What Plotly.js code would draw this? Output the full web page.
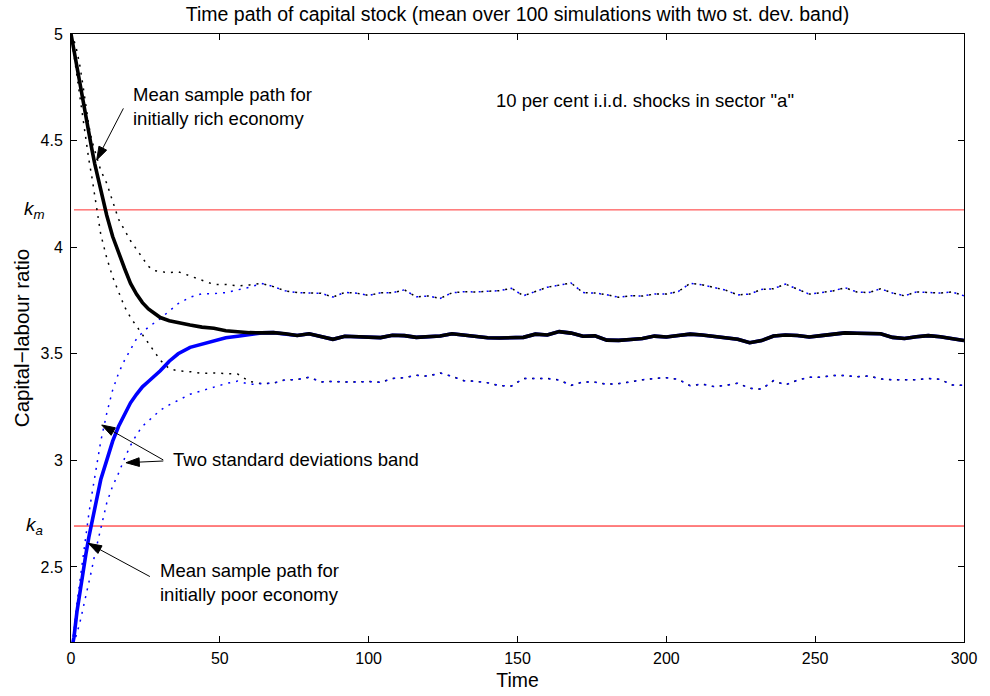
<!DOCTYPE html>
<html>
<head>
<meta charset="utf-8">
<script src="https://cdn.plot.ly/plotly-3.0.1.min.js"></script>
<style>html,body{margin:0;padding:0;background:#fff;}#chart{width:990px;height:696px;}</style>
</head>
<body>
<div id="chart"></div>
<script>
// Time grid: dense early part and converged tail
const timeHead = [0,1,2,3,4,5,6,7,8,9,10,12,14,16,18,20,22,24,26,28,30,33,36,40,44,48,52,56,60];
const timeTail = [64,68,72,76,80,84,88,92,96,100,104,108,112,116,120,124,128,132,136,140,144,148,152,156,160,164,168,172,176,180,184,188,192,196,200,204,208,212,216,220,224,228,232,236,240,244,248,252,256,260,264,268,272,276,280,284,288,292,296,300];

// Initially rich economy (black)
const richMeanHead  = [5.0,4.92,4.84,4.77,4.69,4.61,4.53,4.46,4.39,4.33,4.27,4.15,4.05,3.97,3.9,3.83,3.78,3.74,3.71,3.69,3.67,3.655,3.645,3.635,3.625,3.62,3.608,3.603,3.599];
const richUpperHead = [5.0,4.97,4.92,4.85,4.76,4.66,4.57,4.5,4.45,4.4,4.36,4.3,4.21,4.13,4.08,4.03,3.99,3.95,3.91,3.89,3.885,3.88,3.885,3.865,3.843,3.825,3.825,3.818,3.823];
const richLowerHead = [5.0,4.9,4.8,4.7,4.6,4.5,4.41,4.33,4.24,4.13,4.06,3.95,3.86,3.79,3.72,3.67,3.63,3.585,3.55,3.505,3.47,3.43,3.42,3.416,3.408,3.41,3.408,3.405,3.37];

// Initially poor economy (blue)
const poorMeanHead  = [2.1,2.17,2.29,2.39,2.48,2.56,2.64,2.71,2.78,2.85,2.91,3.0,3.09,3.16,3.22,3.27,3.31,3.345,3.37,3.395,3.42,3.465,3.5,3.53,3.545,3.562,3.575,3.582,3.59];
const poorUpperHead = [2.1,2.2,2.33,2.44,2.55,2.65,2.75,2.84,2.93,3.01,3.09,3.22,3.33,3.41,3.47,3.52,3.57,3.6,3.625,3.645,3.665,3.7,3.735,3.765,3.782,3.782,3.787,3.8,3.812];
const poorLowerHead = [2.1,2.14,2.19,2.24,2.3,2.37,2.43,2.49,2.56,2.62,2.68,2.8,2.88,2.94,3.01,3.07,3.12,3.16,3.185,3.21,3.235,3.26,3.28,3.31,3.327,3.345,3.36,3.372,3.356];

// Converged part (both economies coincide)
const meanTail  = [3.598,3.599,3.594,3.586,3.594,3.58,3.568,3.582,3.58,3.577,3.576,3.587,3.585,3.577,3.58,3.583,3.594,3.588,3.582,3.575,3.574,3.577,3.577,3.592,3.588,3.604,3.597,3.582,3.584,3.564,3.563,3.567,3.572,3.583,3.579,3.586,3.592,3.588,3.58,3.576,3.568,3.552,3.562,3.583,3.588,3.586,3.579,3.585,3.593,3.598,3.596,3.595,3.594,3.577,3.572,3.58,3.585,3.58,3.572,3.562];
const upperTail = [3.83,3.815,3.795,3.787,3.785,3.784,3.766,3.788,3.784,3.774,3.786,3.786,3.8,3.767,3.771,3.76,3.786,3.791,3.79,3.792,3.796,3.807,3.772,3.792,3.812,3.822,3.832,3.787,3.785,3.777,3.765,3.772,3.771,3.78,3.78,3.792,3.83,3.824,3.81,3.798,3.776,3.78,3.802,3.805,3.827,3.804,3.78,3.787,3.795,3.81,3.79,3.787,3.805,3.785,3.772,3.79,3.787,3.785,3.79,3.772];
const lowerTail = [3.36,3.362,3.378,3.379,3.39,3.368,3.37,3.367,3.367,3.37,3.366,3.384,3.388,3.399,3.395,3.41,3.394,3.374,3.371,3.364,3.35,3.349,3.384,3.384,3.384,3.377,3.352,3.368,3.367,3.357,3.36,3.368,3.378,3.384,3.388,3.38,3.35,3.358,3.346,3.352,3.362,3.338,3.334,3.374,3.354,3.376,3.39,3.39,3.398,3.398,3.392,3.396,3.382,3.378,3.377,3.378,3.384,3.38,3.354,3.352];

// Reference levels
const kM = 4.175;
const kA = 2.692;
const refLineX = [1, 300];

const xTicks = [0,50,100,150,200,250,300];
const yTicks = [2.5,3,3.5,4,4.5,5];

const T = timeHead.concat(timeTail);
const join = (h, t) => h.concat(t);

const FONT = 'Liberation Sans, Arial, Helvetica, sans-serif';
const dotDash = '2px,6px';

const traces = [
  {x: refLineX, y: [kM, kM], mode: 'lines', line: {color: '#ff3030', width: 1}, hoverinfo: 'skip'},
  {x: refLineX, y: [kA, kA], mode: 'lines', line: {color: '#ff0000', width: 1}, hoverinfo: 'skip'},
  {x: T, y: join(richUpperHead, upperTail), mode: 'lines', line: {color: '#000000', width: 1.5, dash: dotDash}},
  {x: T, y: join(richLowerHead, lowerTail), mode: 'lines', line: {color: '#000000', width: 1.5, dash: dotDash}},
  {x: T, y: join(poorUpperHead, upperTail), mode: 'lines', line: {color: '#0000ff', width: 1.5, dash: dotDash}},
  {x: T, y: join(poorLowerHead, lowerTail), mode: 'lines', line: {color: '#0000ff', width: 1.5, dash: dotDash}},
  {x: T, y: join(poorMeanHead, meanTail), mode: 'lines', line: {color: '#0000ff', width: 3.6}},
  {x: T, y: join(richMeanHead, meanTail), mode: 'lines', line: {color: '#000000', width: 3.6}}
];

// Pointer arrows (annotation graphics): [tailX, headX], [tailY, headY]
const pointers = [
  [[17.6, 8.63], [4.651, 4.409]],
  [[31.0, 10.31], [3.002, 3.166]],
  [[31.0, 18.47], [2.997, 2.989]],
  [[26.5, 5.81], [2.455, 2.611]]
];
pointers.forEach(p => traces.push({
  x: p[0], y: p[1], mode: 'lines+markers', hoverinfo: 'skip', opacity: 1,
  line: {color: '#000', width: 1},
  marker: {symbol: 'arrow', size: [0, 14], angleref: 'previous', color: '#000000', opacity: 1, line: {width: 1, color: '#000000'}}
}));

const annFont = {size: 18.5, color: '#000'};

const annotations = [
  {xref: 'x', yref: 'y', x: 20.0, y: 4.66, text: 'Mean sample path for<br>initially rich economy', showarrow: false, xanchor: 'left', yanchor: 'middle', align: 'left', font: annFont},
  {xref: 'x', yref: 'y', x: 142.0, y: 4.686, text: '10 per cent i.i.d. shocks in sector "a"', showarrow: false, xanchor: 'left', yanchor: 'middle', font: annFont},
  {xref: 'x', yref: 'y', x: 33.5, y: 3.002, text: 'Two standard deviations band', showarrow: false, xanchor: 'left', yanchor: 'middle', font: annFont},
  {xref: 'x', yref: 'y', x: 29.3, y: 2.427, text: 'Mean sample path for<br>initially poor economy', showarrow: false, xanchor: 'left', yanchor: 'middle', align: 'left', font: annFont},
  {xref: 'paper', yref: 'y', x: -0.041, y: kM, text: '<i>k<sub>m</sub></i>', showarrow: false, xanchor: 'center', yanchor: 'middle', font: {size: 19, color: '#000'}},
  {xref: 'paper', yref: 'y', x: -0.041, y: kA, text: '<i>k<sub>a</sub></i>', showarrow: false, xanchor: 'center', yanchor: 'middle', font: {size: 19, color: '#000'}}
];

const axisCommon = {
  showline: true, linecolor: '#000', linewidth: 1, mirror: 'ticks',
  ticks: 'inside', ticklen: 6, tickcolor: '#000', tickwidth: 1,
  showgrid: false, zeroline: false, tickfont: {size: 16, color: '#000'}
};

const layout = {
  width: 990, height: 696,
  margin: {l: 71, r: 26, t: 34, b: 54},
  paper_bgcolor: '#fff', plot_bgcolor: '#fff',
  font: {family: FONT, size: 16, color: '#000'},
  showlegend: false,
  title: {text: 'Time path of capital stock (mean over 100 simulations with two st. dev. band)', x: 0.5, xref: 'paper', y: 0.98, yanchor: 'middle', font: {size: 19.5, color: '#000'}},
  xaxis: Object.assign({}, axisCommon, {range: [0, 300], tickvals: xTicks, ticktext: xTicks.map(String), ticklabelstandoff: 2,
    title: {text: 'Time', standoff: 7, font: {size: 19.4}}}),
  yaxis: Object.assign({}, axisCommon, {range: [2.148, 5], tickvals: yTicks, ticktext: yTicks.map(String), ticklabelstandoff: 4,
    title: {text: 'Capital\u2212labour ratio', standoff: 5, font: {size: 20.5}}}),
  annotations: annotations
};

Plotly.newPlot('chart', traces, layout, {displayModeBar: false, staticPlot: true});
</script>
</body>
</html>
